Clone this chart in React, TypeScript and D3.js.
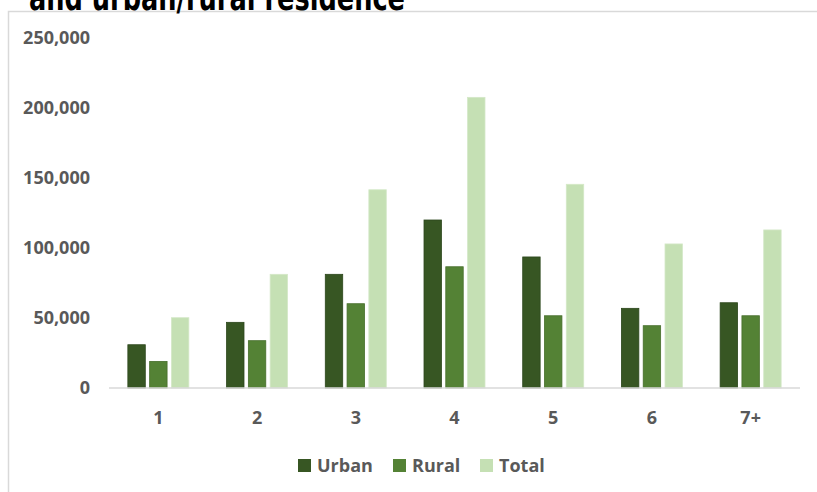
import React from "react";
import * as d3 from "d3";

const categories = ["1", "2", "3", "4", "5", "6", "7+"];
const seriesNames = ["Urban", "Rural", "Total"];
const urban = [30900, 46900, 81200, 120000, 93600, 56900, 60900];
const rural = [19000, 33800, 60200, 86600, 51600, 44500, 51600];
const total = [50200, 81200, 141600, 207600, 145500, 102900, 112900];
const yTicks = [0, 50000, 100000, 150000, 200000, 250000];
const colors = ["#375623", "#548235", "#C5E0B4"];
const strokes = ["#2c461c", "#466e2b", "#d4e8c7"];
const titleText = "and urban/rural residence";

const W = 817;
const H = 492;

export default function App() {
  const values = [urban, rural, total];
  const x = d3.scaleBand<string>().domain(categories).range([109, 800]).padding(0);
  const y = d3.scaleLinear().domain([0, 250000]).range([388, 38]);
  const xi = d3
    .scaleBand<string>()
    .domain(seriesNames)
    .range([-30.5, 30.5])
    .paddingInner(0.2)
    .paddingOuter(0);
  const fmt = d3.format(",");
  const font = "'Open Sans', sans-serif";

  const legendX = [298, 393, 480];

  return (
    <svg
      width={W}
      height={H}
      style={{ position: "absolute", left: 0, top: 0, background: "#fff" }}
      fontFamily={font}
    >
      <rect x={0} y={0} width={W} height={H} fill="#fff" />
      {/* chart area border */}
      <rect x={8.5} y={11.5} width={W + 20} height={H + 20} fill="none" stroke="#d9d9d9" strokeWidth={1.5} />
      {/* title (clipped at top) */}
      <text
        x={29}
        y={10}
        fontFamily="'DejaVu Sans', sans-serif"
        fontWeight={700}
        fontSize={36}
        fill="#000"
        textLength={376}
        lengthAdjust="spacingAndGlyphs"
      >
        {titleText}
      </text>
      {/* y labels */}
      {yTicks.map((t) => (
        <text
          key={t}
          x={90}
          y={y(t)}
          dy="0.35em"
          textAnchor="end"
          fontSize={18}
          fontWeight={700}
          fill="#595959"
        >
          {fmt(t)}
        </text>
      ))}
      {/* bars */}
      {categories.map((c, i) => {
        const cx = (x(c) as number) + x.bandwidth() / 2;
        return (
          <g key={c}>
            {seriesNames.map((s, k) => {
              const v = values[k][i];
              return (
                <rect
                  key={s}
                  x={cx + (xi(s) as number)}
                  y={y(v)}
                  width={xi.bandwidth()}
                  height={y(0) - y(v)}
                  fill={colors[k]}
                  stroke={strokes[k]}
                  strokeWidth={0.8}
                />
              );
            })}
          </g>
        );
      })}
      {/* x axis line */}
      <line x1={109} x2={800} y1={388} y2={388} stroke="#d9d9d9" strokeWidth={1.5} />
      {/* x labels */}
      {categories.map((c) => (
        <text
          key={c}
          x={(x(c) as number) + x.bandwidth() / 2}
          y={424}
          textAnchor="middle"
          fontSize={18}
          fontWeight={700}
          fill="#595959"
        >
          {c}
        </text>
      ))}
      {/* legend */}
      {seriesNames.map((s, k) => (
        <g key={s}>
          <rect x={legendX[k]} y={459} width={13} height={13} fill={colors[k]} />
          <text x={legendX[k] + 19} y={472} fontSize={18} fontWeight={700} fill="#595959">
            {s}
          </text>
        </g>
      ))}
    </svg>
  );
}
